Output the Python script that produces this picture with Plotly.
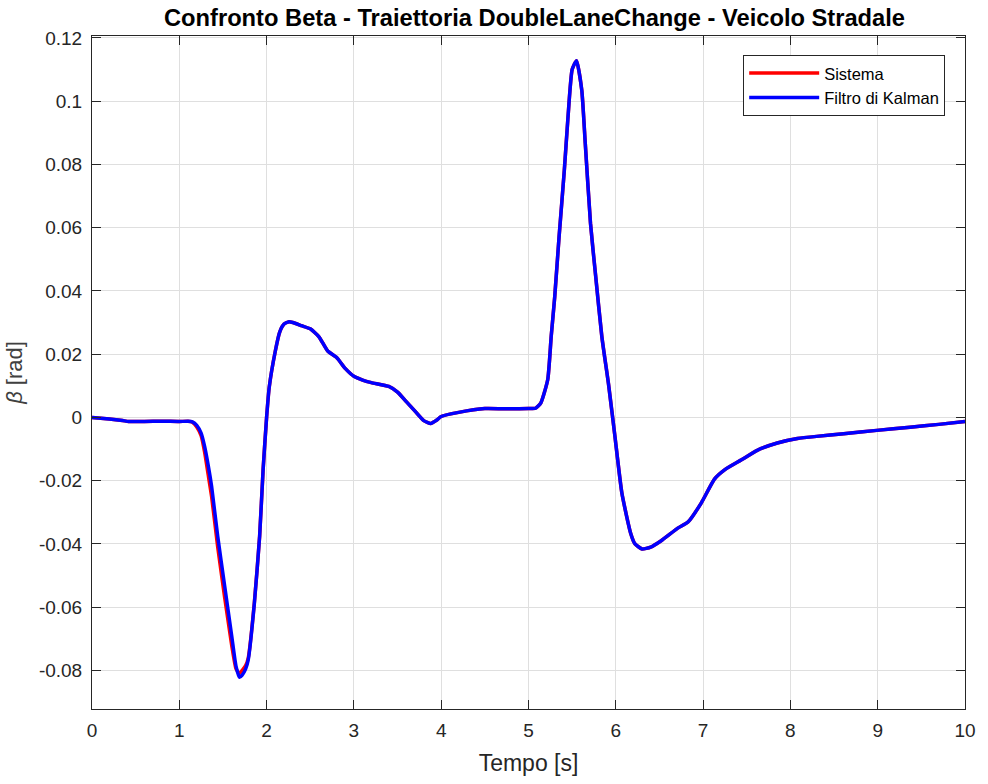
import plotly.graph_objects as go

# Time samples [s]
tempo = [0, 0.2, 0.35, 0.42, 0.6, 0.8, 1.0, 1.1, 1.15, 1.2, 1.25, 1.29, 1.33, 1.37,
         1.44, 1.52, 1.60, 1.65, 1.69, 1.72, 1.76, 1.79, 1.86, 1.92, 1.96, 2.0,
         2.03, 2.1, 2.15, 2.2, 2.25, 2.3, 2.4, 2.5, 2.6, 2.7, 2.8, 2.9, 3.0, 3.1,
         3.2, 3.4, 3.5, 3.6, 3.7, 3.8, 3.88, 3.95, 4.0, 4.2, 4.5, 4.8, 5.0, 5.08,
         5.14, 5.22, 5.26, 5.30, 5.35, 5.41, 5.45, 5.50, 5.55, 5.61, 5.65, 5.71,
         5.77, 5.84, 5.92, 5.99, 6.07, 6.17, 6.22, 6.30, 6.40, 6.52, 6.71, 6.83,
         6.98, 7.13, 7.25, 7.44, 7.62, 7.85, 8.08, 8.3, 8.61, 8.99, 9.37, 9.7, 10.0]

# Sideslip angle estimated by the Kalman filter [rad]
beta_kalman = [0, -0.0005, -0.001, -0.0013, -0.0013, -0.0012, -0.0013, -0.0012,
               -0.0014, -0.0025, -0.005, -0.0092, -0.015, -0.0218, -0.0376,
               -0.0534, -0.069, -0.0787, -0.0822, -0.0815, -0.0795, -0.0766,
               -0.0587, -0.0376, -0.0165, 0.0, 0.0095, 0.021, 0.027, 0.0295,
               0.0302, 0.030, 0.029, 0.028, 0.0255, 0.021, 0.019, 0.0155, 0.013,
               0.0118, 0.011, 0.0098, 0.008, 0.005, 0.002, -0.001, -0.0019,
               -0.0008, 0.0003, 0.0016, 0.0028, 0.0027, 0.0028, 0.0029, 0.0045,
               0.0119, 0.0256, 0.038, 0.057, 0.078, 0.094, 0.110, 0.1128, 0.1035,
               0.0867, 0.0614, 0.0445, 0.0256, 0.0098, -0.006, -0.024, -0.0366,
               -0.040, -0.0416, -0.0410, -0.039, -0.035, -0.033, -0.027, -0.0195,
               -0.0165, -0.0134, -0.0104, -0.0081, -0.0067, -0.006, -0.0052,
               -0.0041, -0.0031, -0.0022, -0.0013]

# Sideslip angle of the vehicle model [rad]
beta_sistema = [0, -0.0005, -0.001, -0.0013, -0.0013, -0.0012, -0.0013, -0.0012,
                -0.0015, -0.003, -0.0058, -0.011, -0.018, -0.025, -0.041,
                -0.057, -0.072, -0.0795, -0.081, -0.0800, -0.0785, -0.0760,
                -0.0585, -0.0376, -0.0165, 0.0, 0.0095, 0.021, 0.027, 0.0295,
                0.0302, 0.030, 0.029, 0.028, 0.0255, 0.021, 0.019, 0.0155, 0.013,
                0.0118, 0.011, 0.0098, 0.008, 0.005, 0.002, -0.001, -0.0019,
                -0.0008, 0.0003, 0.0016, 0.0028, 0.0027, 0.0028, 0.0029, 0.0045,
                0.0119, 0.0256, 0.038, 0.057, 0.078, 0.094, 0.110, 0.1128, 0.1035,
                0.0867, 0.0614, 0.0445, 0.0256, 0.0098, -0.006, -0.024, -0.0366,
                -0.040, -0.0416, -0.0410, -0.039, -0.035, -0.033, -0.027, -0.0195,
                -0.0165, -0.0134, -0.0104, -0.0081, -0.0067, -0.006, -0.0052,
                -0.0041, -0.0031, -0.0022, -0.0013]

x_ticks = [0, 1, 2, 3, 4, 5, 6, 7, 8, 9, 10]
y_ticks = [-0.08, -0.06, -0.04, -0.02, 0, 0.02, 0.04, 0.06, 0.08, 0.1, 0.12]
y_tick_text = ["-0.08", "-0.06", "-0.04", "-0.02", "0", "0.02", "0.04",
               "0.06", "0.08", "0.1", "0.12"]

FONT = "Liberation Sans, Arial, Helvetica, sans-serif"
AX = "#262626"

fig = go.Figure()
fig.add_trace(go.Scatter(x=tempo, y=beta_sistema, mode="lines", name="Sistema",
                         line=dict(color="#ff0000", width=3.5, shape="spline", smoothing=0.5)))
fig.add_trace(go.Scatter(x=tempo, y=beta_kalman, mode="lines", name="Filtro di Kalman",
                         line=dict(color="#0000ff", width=3.5, shape="spline", smoothing=0.5)))

axis_common = dict(
    showline=True, linecolor=AX, linewidth=1, mirror="allticks",
    ticks="inside", ticklen=9, tickwidth=1, tickcolor=AX,
    showgrid=True, gridcolor="#dfdfdf", gridwidth=1, zeroline=False,
    tickfont=dict(family=FONT, size=19, color=AX),
)

fig.update_layout(
    width=988, height=784,
    margin=dict(l=92, r=16, t=36, b=71),
    paper_bgcolor="white", plot_bgcolor="white",
    title=dict(text="<b>Confronto Beta - Traiettoria DoubleLaneChange - Veicolo Stradale</b>",
               x=0.541, xanchor="center", y=0.977, yanchor="middle",
               font=dict(family=FONT, size=23.7, color="black")),
    xaxis=dict(range=[0, 10], tickvals=x_ticks, ticktext=[str(v) for v in x_ticks],
               ticklabelstandoff=4,
               title=dict(text="Tempo [s]", standoff=15,
                          font=dict(family=FONT, size=23, color=AX)),
               **axis_common),
    yaxis=dict(range=[-0.0922, 0.1206], tickvals=y_ticks, ticktext=y_tick_text,
               ticklabelstandoff=5,
               title=dict(text="<i>β</i> [rad]", standoff=10,
                          font=dict(family=FONT, size=22, color="#404040")),
               **axis_common),
    legend=dict(x=0.9773, y=0.972, xanchor="right", yanchor="top",
                bgcolor="white", bordercolor=AX, borderwidth=1,
                font=dict(family=FONT, size=16.5, color="black"),
                itemwidth=70, tracegroupgap=0),
    showlegend=True,
)

fig.write_html("out.html")
